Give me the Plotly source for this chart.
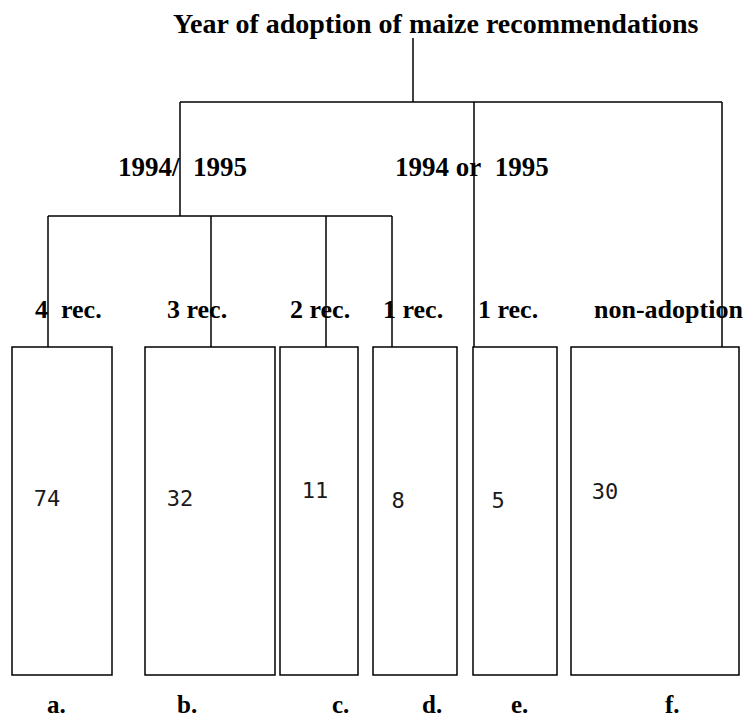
import plotly.graph_objects as go

# ---- data ----
title = "Year of adoption of maize recommendations"
groups = ["1994/&nbsp;&nbsp;1995", "1994 or&nbsp;&nbsp;1995"]
categories = ["4&nbsp;&nbsp;rec.", "3 rec.", "2 rec.", "1 rec.", "1 rec.", "non-adoption"]
counts = [74, 32, 11, 8, 5, 30]
letters = ["a.", "b.", "c.", "d.", "e.", "f."]

# ---- layout geometry (pixel space) ----
W, H = 749, 719
box_x = [(12, 112), (145, 275), (280, 358), (373, 457), (473, 557), (571, 739)]
box_top, box_bot = 347, 675
cat_x = [68, 197, 320, 413, 508, 668]
cat_y = 309
num_pos = [(47, 500), (180, 500), (315, 492), (398, 502), (498, 502), (605, 493)]
let_x = [56, 187, 340, 432, 519, 672]
let_y = 719
group_pos = [(182, 167), (472, 167)]

LC = "black"
LW = 1.5
shapes = []

def line(x0, y0, x1, y1):
    shapes.append(dict(type="line", x0=x0, y0=y0, x1=x1, y1=y1,
                       xref="x", yref="y", line=dict(color=LC, width=LW)))

# tree
line(413, 38, 413, 102)
line(180, 102, 722, 102)
line(180, 102, 180, 216)
line(474, 102, 474, box_top)
line(722, 102, 722, box_top)
line(48, 216, 392, 216)
for xv in [48, 211, 326, 392]:
    line(xv, 216, xv, box_top)

# boxes
for (x0, x1) in box_x:
    shapes.append(dict(type="rect", x0=x0, x1=x1, y0=box_top, y1=box_bot,
                       xref="x", yref="y", line=dict(color=LC, width=LW),
                       fillcolor="rgba(0,0,0,0)", layer="below"))

serif = "Liberation Serif"
ann = []
ann.append(dict(x=436, y=23, text="<b>%s</b>" % title, showarrow=False,
                font=dict(family=serif, size=28, color="black")))
for g, (gx, gy) in zip(groups, group_pos):
    ann.append(dict(x=gx, y=gy, text="<b>%s</b>" % g, showarrow=False,
                    font=dict(family=serif, size=27, color="black")))
for c, cx in zip(categories, cat_x):
    ann.append(dict(x=cx, y=cat_y, text="<b>%s</b>" % c, showarrow=False,
                    font=dict(family=serif, size=26, color="black")))
for l, lx in zip(letters, let_x):
    ann.append(dict(x=lx, y=let_y, text="<b>%s</b>" % l, showarrow=False,
                    yanchor="bottom", borderpad=0,
                    font=dict(family=serif, size=25, color="black")))

fig = go.Figure()
fig.add_trace(go.Scatter(
    x=[p[0] for p in num_pos], y=[p[1] for p in num_pos],
    text=[str(v) for v in counts], mode="text",
    textfont=dict(family="DejaVu Sans Mono", size=22, color="#1a1a1a"),
    hoverinfo="skip", showlegend=False))

fig.update_layout(
    width=W, height=H, margin=dict(l=0, r=0, t=0, b=0),
    paper_bgcolor="white", plot_bgcolor="white",
    shapes=shapes, annotations=ann,
    xaxis=dict(range=[0, W], visible=False, fixedrange=True),
    yaxis=dict(range=[H, 0], visible=False, fixedrange=True),
)
fig.write_html("out.html", config={"displayModeBar": False},
               post_script="document.body.style.margin='0';document.body.style.overflow='hidden';")
